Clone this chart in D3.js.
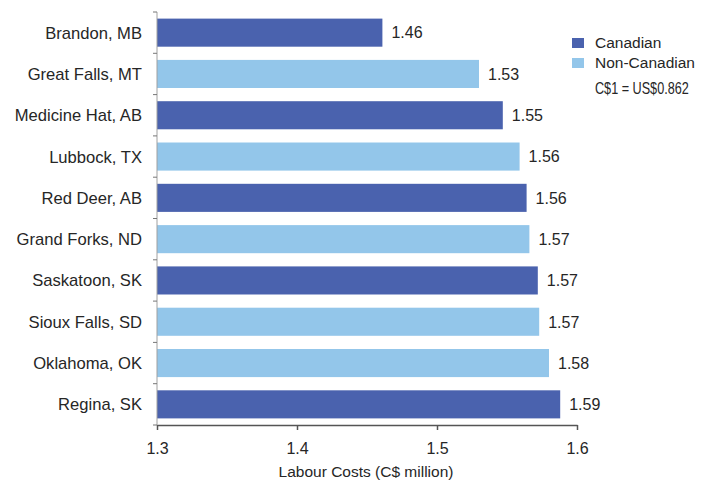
<!DOCTYPE html>
<html>
<head>
<meta charset="utf-8">
<script src="https://cdn.jsdelivr.net/npm/d3@7"></script>
<style>
  html, body { margin: 0; padding: 0; background: #fff; }
  svg { display: block; font-family: "Liberation Sans", Arial, Helvetica, sans-serif; }
</style>
</head>
<body>
<svg id="chart" width="710" height="485"></svg>
<script>
// Labour costs by city, C$ million
const cities = [
  "Brandon, MB", "Great Falls, MT", "Medicine Hat, AB", "Lubbock, TX", "Red Deer, AB",
  "Grand Forks, ND", "Saskatoon, SK", "Sioux Falls, SD", "Oklahoma, OK", "Regina, SK"
];
const costs = [1.461, 1.530, 1.547, 1.559, 1.564, 1.566, 1.572, 1.573, 1.580, 1.588];
const groups = [
  "Canadian", "Non-Canadian", "Canadian", "Non-Canadian", "Canadian",
  "Non-Canadian", "Canadian", "Non-Canadian", "Non-Canadian", "Canadian"
];
const legendGroups = ["Canadian", "Non-Canadian"];
const xTicks = [1.3, 1.4, 1.5, 1.6];
const xTitle = "Labour Costs (C$ million)";
const exchangeNote = "C$1 = US$0.862";

const svg = d3.select("#chart");
const plotLeft = 157, plotRight = 577, plotTop = 12, plotBottom = 425;
const textColor = "#262626";

const x = d3.scaleLinear().domain([1.3, 1.6]).range([plotLeft, plotRight]);
const y = d3.scaleBand().domain(cities).range([plotTop, plotBottom]).paddingInner(0.32).paddingOuter(0.16);
const color = d3.scaleOrdinal().domain(legendGroups).range(["#4a62ae", "#93c6ea"]);

const rows = cities.map((c, i) => ({ city: c, value: costs[i], group: groups[i] }));

// bars
svg.append("g").selectAll("rect").data(rows).join("rect")
  .attr("x", x(1.3))
  .attr("y", d => y(d.city))
  .attr("width", d => x(d.value) - x(1.3))
  .attr("height", y.bandwidth())
  .attr("fill", d => color(d.group));

// value labels
svg.append("g").selectAll("text").data(rows).join("text")
  .attr("x", d => x(d.value) + 9)
  .attr("y", d => y(d.city) + y.bandwidth() / 2)
  .attr("dy", "0.36em")
  .attr("font-size", 16)
  .attr("fill", textColor)
  .text(d => d3.format(".2f")(d.value));

// y axis: ticks sit between categories
const yAxisG = svg.append("g");
yAxisG.append("line")
  .attr("x1", plotLeft).attr("x2", plotLeft)
  .attr("y1", plotTop).attr("y2", plotBottom)
  .attr("stroke", "#a0a0a0").attr("stroke-width", 1);
const boundaries = d3.range(cities.length + 1).map(i => plotTop + i * (plotBottom - plotTop) / cities.length);
yAxisG.selectAll("line.tk").data(boundaries).join("line")
  .attr("class", "tk")
  .attr("x1", plotLeft - 4).attr("x2", plotLeft)
  .attr("y1", d => d).attr("y2", d => d)
  .attr("stroke", "#777").attr("stroke-width", 1);
yAxisG.selectAll("text").data(cities).join("text")
  .attr("x", plotLeft - 15)
  .attr("y", d => y(d) + y.bandwidth() / 2)
  .attr("dy", "0.36em")
  .attr("text-anchor", "end")
  .attr("font-size", 16.6)
  .attr("fill", textColor)
  .text(d => d);

// x axis
const xAxisG = svg.append("g")
  .attr("transform", `translate(0,${plotBottom})`)
  .call(d3.axisBottom(x).tickValues(xTicks).tickFormat(d3.format(".1f")).tickSize(5).tickPadding(13).tickSizeOuter(0));
xAxisG.select(".domain").attr("stroke", "#555").attr("stroke-width", 1.5);
xAxisG.selectAll(".tick line").attr("stroke", "#555").attr("stroke-width", 1.5);
xAxisG.selectAll(".tick text")
  .attr("font-size", 16)
  .attr("font-family", "\"Liberation Sans\", Arial, sans-serif")
  .attr("fill", textColor);

svg.append("text")
  .attr("x", (plotLeft + plotRight) / 2 - 1)
  .attr("y", 477)
  .attr("text-anchor", "middle")
  .attr("font-size", 15.5)
  .attr("fill", textColor)
  .text(xTitle);

// legend
const legend = svg.append("g").attr("transform", "translate(572,38)");
legend.selectAll("rect").data(legendGroups).join("rect")
  .attr("x", 0)
  .attr("y", (d, i) => i * 20)
  .attr("width", 12)
  .attr("height", 10)
  .attr("fill", d => color(d));
legend.selectAll("text.lg").data(legendGroups).join("text")
  .attr("class", "lg")
  .attr("x", 23)
  .attr("y", (d, i) => i * 20 + 10)
  .attr("font-size", 15.5)
  .attr("fill", textColor)
  .text(d => d);
// exchange-rate note, horizontally condensed
legend.append("g")
  .attr("transform", "translate(23,56) scale(0.79,1)")
  .append("text")
  .attr("x", 0)
  .attr("y", 0)
  .attr("font-size", 16)
  .attr("fill", textColor)
  .text(exchangeNote);
</script>
</body>
</html>
